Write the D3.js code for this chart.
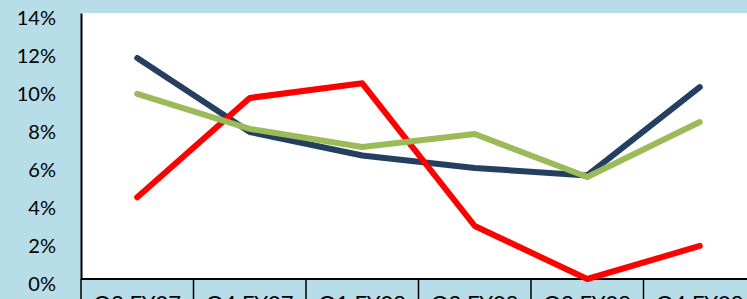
<!DOCTYPE html>
<html>
<head>
<meta charset="utf-8">
<script src="https://cdn.jsdelivr.net/npm/d3@7"></script>
<style>
  html, body { margin: 0; padding: 0; background: #b7dde8; }
  svg { display: block; }
  .tick text { font-family: Lato, "Open Sans", sans-serif; fill: #000; }
</style>
</head>
<body>
<div id="chart"></div>
<script>
// quarters on the x axis
var quarters = ["Q3 FY07", "Q4 FY07", "Q1 FY08", "Q2 FY08", "Q3 FY08", "Q4 FY08"];
// three series, values in percent
var navySeries  = [11.63, 7.74, 6.5, 5.84, 5.45, 10.1];
var greenSeries = [9.74, 7.9, 6.95, 7.63, 5.37, 8.26];
var redSeries   = [4.3, 9.53, 10.3, 2.79, 0.0, 1.74];
var yTicks = [0, 2, 4, 6, 8, 10, 12, 14];

var width = 747, height = 299;
var plotLeft = 81, plotTop = 13, plotBottom = 279, bandW = 112.5;

var svg = d3.select("#chart").append("svg")
  .attr("width", width)
  .attr("height", height);

var x = d3.scaleBand()
  .domain(quarters)
  .range([plotLeft, plotLeft + bandW * quarters.length])
  .padding(0);

var y = d3.scaleLinear()
  .domain([0, 14])
  .range([plotBottom, plotTop]);

// white plot area
svg.append("rect")
  .attr("x", plotLeft)
  .attr("y", plotTop)
  .attr("width", width - plotLeft)
  .attr("height", plotBottom - plotTop)
  .attr("fill", "#fff");

// y axis
var yAxis = svg.append("g")
  .attr("transform", "translate(" + plotLeft + ",0)")
  .call(d3.axisLeft(y).tickValues(yTicks).tickSize(0).tickPadding(25)
    .tickFormat(function(d){ return d + "%"; }));
yAxis.select(".domain").attr("stroke", "#000").attr("stroke-width", 2);
yAxis.selectAll(".tick text").style("font-size", "20px").attr("dy", "0.55em");

// x axis with separators between categories
var xAxis = svg.append("g")
  .attr("transform", "translate(0," + plotBottom + ")")
  .call(d3.axisBottom(x).tickSize(0).tickPadding(0));
xAxis.select(".domain").remove();
xAxis.selectAll(".tick text")
  .style("font-size", "22px")
  .attr("y", 32)
  .attr("dy", 0);
svg.append("line")
  .attr("x1", plotLeft).attr("x2", width)
  .attr("y1", plotBottom).attr("y2", plotBottom)
  .attr("stroke", "#000").attr("stroke-width", 2);
svg.selectAll(".sep")
  .data(quarters)
  .enter().append("line")
  .attr("class", "sep")
  .attr("x1", function(d){ return x(d); })
  .attr("x2", function(d){ return x(d); })
  .attr("y1", plotBottom).attr("y2", height)
  .attr("stroke", "#000").attr("stroke-width", 1.5);

var line = d3.line()
  .x(function(d, i){ return x(quarters[i]) + x.bandwidth() / 2; })
  .y(function(d){ return y(d); });

var series = [
  { values: navySeries,  color: "#243f60" },
  { values: redSeries,   color: "#ff0000" },
  { values: greenSeries, color: "#9bbb59" }
];

svg.selectAll(".series")
  .data(series)
  .enter().append("path")
  .attr("class", "series")
  .attr("d", function(s){ return line(s.values); })
  .attr("fill", "none")
  .attr("stroke", function(s){ return s.color; })
  .attr("stroke-width", 6)
  .attr("stroke-linecap", "round")
  .attr("stroke-linejoin", "round");
</script>
</body>
</html>
